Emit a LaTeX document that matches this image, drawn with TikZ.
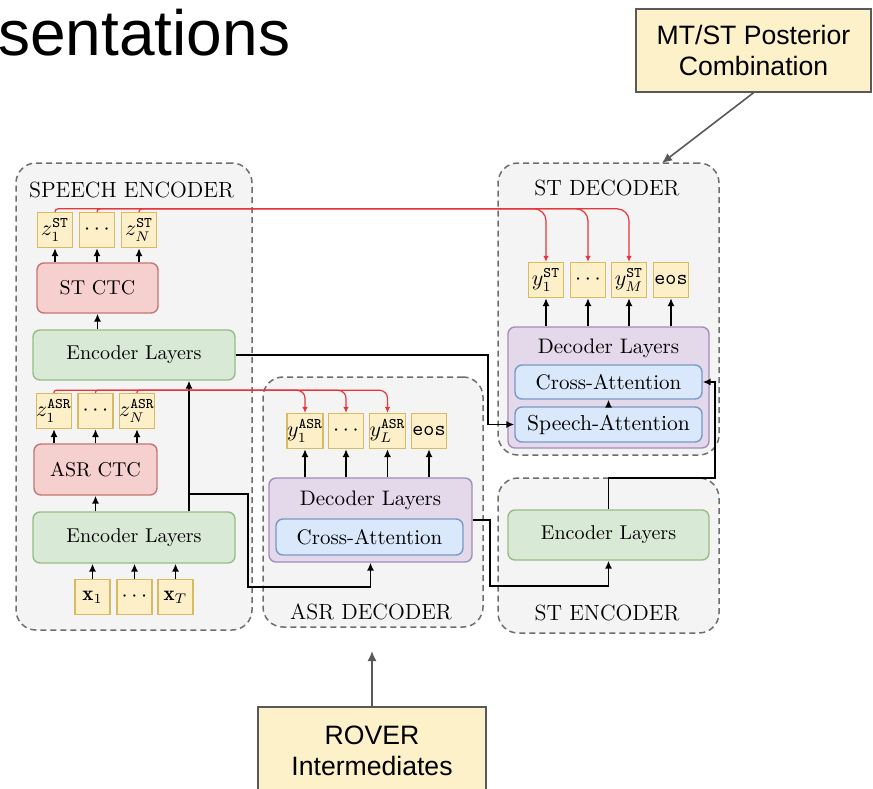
\documentclass[tikz,border=0pt]{standalone}
\usepackage{fontspec}
\newfontfamily\slidefont{Liberation Sans}
\usetikzlibrary{arrows.meta,calc}

\definecolor{grpfill}{HTML}{F4F4F4}
\definecolor{grpline}{HTML}{6E6E6E}
\definecolor{tokfill}{HTML}{FDF0C8}
\definecolor{tokline}{HTML}{D8BA60}
\definecolor{ctcfill}{HTML}{F6D0CF}
\definecolor{ctcline}{HTML}{C47674}
\definecolor{encfill}{HTML}{D8EAD5}
\definecolor{encline}{HTML}{96BE84}
\definecolor{decfill}{HTML}{E4D9EA}
\definecolor{decline}{HTML}{A48CBB}
\definecolor{attfill}{HTML}{DAE8FC}
\definecolor{attline}{HTML}{7898C8}
\definecolor{notefill}{HTML}{FDF1C9}
\definecolor{noteline}{HTML}{595959}
\definecolor{linkred}{HTML}{E5373B}

\tikzset{
  grp/.style={draw=grpline, dash pattern=on 3pt off 2pt, line width=0.75pt,
    fill=grpfill, rounded corners=10pt, inner sep=0pt},
  grptitle/.style={anchor=base, inner sep=0pt, font=\fontsize{11}{13}\selectfont},
  tok/.style={draw=tokline, fill=tokfill, line width=0.7pt, minimum width=17.5pt,
    minimum height=17.5pt, inner sep=0pt, font=\fontsize{10.5}{12}\selectfont},
  boxbase/.style={line width=0.7pt, rounded corners=3.5pt, inner sep=0pt},
  ctc/.style={boxbase, draw=ctcline, fill=ctcfill, font=\fontsize{10}{12}\selectfont},
  enc/.style={boxbase, draw=encline, fill=encfill, font=\fontsize{10}{12}\selectfont},
  dec/.style={boxbase, draw=decline, fill=decfill},
  att/.style={boxbase, draw=attline, fill=attfill, font=\fontsize{10.5}{12.5}\selectfont},
  lbl/.style={inner sep=0pt, font=\fontsize{10.5}{12.5}\selectfont},
  note/.style={draw=noteline, fill=notefill, line width=0.75pt, inner sep=0pt,
    align=center, font=\slidefont\fontsize{13.3}{15.5}\selectfont},
  arr/.style={draw=black, line width=0.8pt, -{Latex[length=4pt,width=3.6pt]}},
  redarr/.style={draw=linkred, line width=0.6pt, -{Latex[length=3pt,width=2.8pt]}},
  notearr/.style={draw=noteline, line width=0.8pt, -{Latex[length=5pt,width=4.5pt]}},
}

\begin{document}
\begin{tikzpicture}[x=0.5pt,y=-0.5pt]
\useasboundingbox (0,0) rectangle (873,788);
\fill[white] (0,0) rectangle (873,788);
\clip (0,0) rectangle (873,788);

% slide heading (cut off at the left edge)
\node[anchor=base west, inner sep=0pt, font=\slidefont\fontsize{32}{37}\selectfont] (heading) at (-2,55) {sentations};

% module groups
\node[grp, minimum width=118pt, minimum height=233.5pt] (spgrp) at (134,396.5) {};
\node[grp, minimum width=110pt, minimum height=125pt] (asrgrp) at (373,502) {};
\node[grp, minimum width=110.5pt, minimum height=146pt] (stdgrp) at (608.5,309) {};
\node[grp, minimum width=110.5pt, minimum height=77.5pt] (stegrp) at (608.5,555.5) {};

\node[grptitle] (sptitle) at (131.5,197) {SPEECH ENCODER};
\node[grptitle] (stdtitle) at (607,195) {ST DECODER};
\node[grptitle] (asrtitle) at (371,619) {ASR DECODER};
\node[grptitle] (stetitle) at (607,620) {ST ENCODER};

% speech encoder
\node[ctc, minimum width=60.5pt, minimum height=25pt] (stctc) at (97.5,288) {ST CTC};
\node[enc, minimum width=101pt, minimum height=25pt] (enc1) at (134,355) {Encoder Layers};
\node[ctc, minimum width=61.5pt, minimum height=25.5pt] (asrctc) at (95.5,469.5) {ASR CTC};
\node[enc, minimum width=101pt, minimum height=25.5pt] (enc2) at (134,537.5) {Encoder Layers};

\node[tok] (zs1) at (55,230) {$z_1^{\mathtt{ST}}$};
\node[tok] (zs2) at (97,230) {$\cdots$};
\node[tok] (zs3) at (139,230) {$z_N^{\mathtt{ST}}$};
\node[tok] (za1) at (54,411) {$z_1^{\mathtt{ASR}}$};
\node[tok] (za2) at (95.5,411) {$\cdots$};
\node[tok] (za3) at (137,411) {$z_N^{\mathtt{ASR}}$};
\node[tok] (xi1) at (92.5,597) {$\mathbf{x}_1$};
\node[tok] (xi2) at (134.5,597) {$\cdots$};
\node[tok] (xi3) at (175.5,597) {$\mathbf{x}_T$};

% ASR decoder
\node[dec, minimum width=101.5pt, minimum height=42pt] (asrdec) at (370.5,520) {};
\node[lbl] (asrdeclbl) at (370.5,500) {Decoder Layers};
\node[att, minimum width=93.5pt, minimum height=18pt] (crossA) at (369.5,537) {Cross-Attention};
\node[tok] (ya1) at (305,431) {$y_1^{\mathtt{ASR}}$};
\node[tok] (ya2) at (346,431) {$\cdots$};
\node[tok] (ya3) at (387.5,431) {$y_L^{\mathtt{ASR}}$};
\node[tok] (ya4) at (429,431) {\texttt{eos}};

% ST decoder
\node[dec, minimum width=100.5pt, minimum height=60.5pt] (stdec) at (608.5,387.5) {};
\node[lbl] (stdeclbl) at (608.5,348) {Decoder Layers};
\node[att, minimum width=93.5pt, minimum height=17pt] (crossS) at (608.5,382) {Cross-Attention};
\node[att, minimum width=93.5pt, minimum height=17.5pt, font=\fontsize{10.8}{12.5}\selectfont] (spatt) at (608.5,424.5) {Speech-Attention};
\node[tok] (ys1) at (546,280) {$y_1^{\mathtt{ST}}$};
\node[tok] (ys2) at (588,280) {$\cdots$};
\node[tok] (ys3) at (629,280) {$y_M^{\mathtt{ST}}$};
\node[tok] (ys4) at (671,280) {\texttt{eos}};

% ST encoder
\node[enc, minimum width=100.5pt, minimum height=25pt] (stenc) at (608.5,535) {Encoder Layers};

% annotation boxes
\node[note, minimum width=117.5pt, minimum height=41.5pt] (mtst) at (753.5,50.5) {MT/ST Posterior\\Combination};
\node[note, minimum width=114pt, minimum height=44pt] (rover) at (372,751) {ROVER\\Intermediates};

% vertical data flow
\foreach \i in {1,2,3} \draw[arr] (stctc.north -| zs\i.south) -- (zs\i.south);
\draw[arr] (enc1.north -| stctc.south) -- (stctc.south);
\foreach \i in {1,2,3} \draw[arr] (asrctc.north -| za\i.south) -- (za\i.south);
\draw[arr] (enc2.north -| asrctc.south) -- (asrctc.south);
\foreach \i in {1,2,3} \draw[arr] (xi\i.north) -- (enc2.south -| xi\i.north);
\foreach \i in {1,...,4} \draw[arr] (asrdec.north -| ya\i.south) -- (ya\i.south);
\foreach \i in {1,...,4} \draw[arr] (stdec.north -| ys\i.south) -- (ys\i.south);
\draw[arr] (spatt.north) -- (crossS.south);

% routed connections between modules
\coordinate (bx) at (189,494);
\coordinate (k1) at (248,587);
\coordinate (t1) at (488,355);
\coordinate (k2) at (490,586);
\coordinate (k3) at (715,478);
\draw[arr] (enc2.north -| bx) -- (enc1.south -| bx);
\draw[arr] (bx) -| (k1) -| (asrdec.south);
\draw[arr] (enc1.east) -- (t1) |- (spatt.west);
\draw[arr] (asrdec.east) -| (k2) -| (stenc.south);
\draw[arr] (stenc.north) |- (k3) |- (crossS.east);

% CTC outputs fed to the decoders
\foreach \i in {1,2,3}
  \draw[redarr] (zs\i.north) [rounded corners=1.5pt] -- ++(0,-3) [rounded corners=6pt] -| (ys\i.north);
\foreach \i in {1,2,3}
  \draw[redarr] (za\i.north) [rounded corners=1pt] -- ++(0,-2.5) [rounded corners=4pt] -| (ya\i.north);

% annotation pointers
\coordinate (p1) at (662,163);
\coordinate (p2) at (372,651);
\draw[notearr] (mtst.south) -- (p1);
\draw[notearr] (rover.north) -- (p2);
\end{tikzpicture}
\end{document}
